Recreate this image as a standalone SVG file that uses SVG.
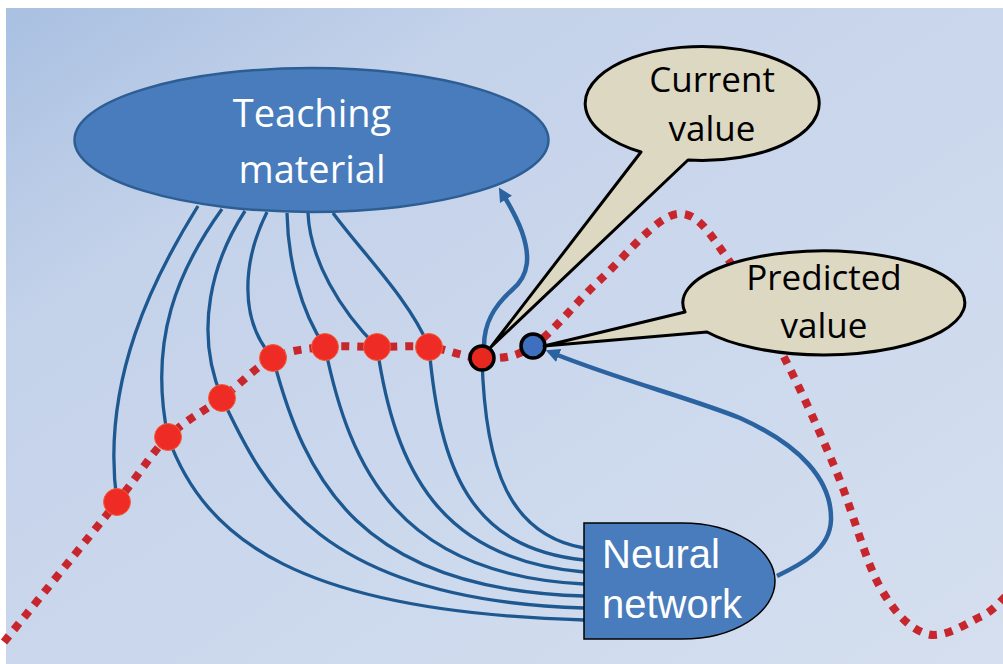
<svg xmlns="http://www.w3.org/2000/svg" width="1003" height="664" viewBox="0 0 1003 664">
  <defs>
    <linearGradient id="bg" x1="0" y1="0" x2="1" y2="1">
      <stop offset="0" stop-color="#a9c0e1"/>
      <stop offset="0.25" stop-color="#c4d2ea"/>
      <stop offset="1" stop-color="#d5dfef"/>
    </linearGradient>
    <marker id="arrow" viewBox="0 0 14 14" refX="4" refY="7" markerWidth="14" markerHeight="14" markerUnits="userSpaceOnUse" orient="auto">
      <path d="M0,0 L14,7 L0,14 z" fill="#2b63a0"/>
    </marker>
    <style>
      .wire { fill: none; stroke: #1d5891; stroke-width: 3.3; }
      .thick { fill: none; stroke: #2b63a0; stroke-width: 4.5; marker-end: url(#arrow); }
      .trend { fill: none; stroke: #c8262d; stroke-width: 8; stroke-dasharray: 8 8; }
      .pt { fill: #ee2b24; stroke: #f2603a; stroke-width: 1; }
      .callout { fill: #ddd8c2; stroke: #000; stroke-width: 3; stroke-linejoin: round; }
      .ctext { font-family: "Open Sans", "Liberation Sans", sans-serif; font-size: 35px; fill: #000; text-anchor: middle; }
      .ttext { font-family: "Open Sans", "Liberation Sans", sans-serif; font-size: 38px; fill: #fff; text-anchor: middle; }
      .ntext { font-family: "Liberation Sans", Arial, sans-serif; font-size: 40px; fill: #fff; }
    </style>
  </defs>

  <rect x="0" y="0" width="1003" height="664" fill="#ffffff"/>
  <rect x="6" y="8" width="997" height="656" fill="url(#bg)"/>

  <g id="trend-curve">
    <path class="trend" d="M4,642 C22.8,618.7 89.7,536.2 117,502 C144.3,467.8 150.5,454.3 168,437 C185.5,419.7 204.5,411.2 222,398 C239.5,384.8 255.8,366.5 273,358 C290.2,349.5 307.7,348.8 325,347 C342.3,345.2 359.7,347 377,347 C394.3,347 411.5,345.2 429,347 C446.5,348.8 464.7,357.8 482,358 C499.3,358.2 513.3,359 533,346 C552.7,333 576,302 600,280 C624,258 655.3,217 677,214 C698.7,211 711.7,237.2 730,262 C748.3,286.8 769.2,327.8 787,363 C804.8,398.2 821.5,435.7 837,473 C852.5,510.3 865,560.2 880,587 C895,613.8 910.3,629 927,634 C943.7,639 967,623.2 980,617 C993,611.5 1001,600.3 1005,597"/>
  </g>

  <g id="connectors">
    <path class="wire" d="M198,206 C155,275 100,380 117,502"/>
    <path class="wire" d="M222,209 C178,270 148,340 168,437 C205,540 300,612 584,620"/>
    <path class="wire" d="M245,211 C213,260 193,330 222,398 C265,490 320,600 584,608"/>
    <path class="wire" d="M267,212 C243,260 238,320 273,358 C305,480 360,590 584,596"/>
    <path class="wire" d="M287,213 C288,260 300,310 325,347 C350,470 400,575 584,584"/>
    <path class="wire" d="M308,213 C310,260 340,310 377,347 C395,470 440,560 584,572"/>
    <path class="wire" d="M333,213 C360,250 410,300 429,347 C440,470 470,548 584,560"/>
    <path class="wire" d="M482,358 C485,470 510,535 584,548"/>
    <path class="thick" d="M484,346 C484,322 495,305 512,290 C530,275 530,255 522,232 C517,218 510,206 504,196"/>
    <path class="thick" d="M777,576 C800,565 830,550 831,520 C832,480 800,445 740,418 C690,398 620,380 555,354"/>
  </g>

  <g id="points">
    <circle class="pt" cx="117" cy="502" r="13.5"/>
    <circle class="pt" cx="168" cy="437" r="13.5"/>
    <circle class="pt" cx="222" cy="398" r="13.5"/>
    <circle class="pt" cx="273" cy="358" r="13.5"/>
    <circle class="pt" cx="325" cy="347" r="13.5"/>
    <circle class="pt" cx="377" cy="347" r="13.5"/>
    <circle class="pt" cx="429" cy="347" r="13.5"/>
  </g>

  <g id="current-point">
    <circle cx="482" cy="358" r="12" fill="#e8281f" stroke="#000" stroke-width="3.5"/>
  </g>
  <g id="predicted-point">
    <circle cx="533" cy="346" r="12" fill="#3f6fbf" stroke="#000" stroke-width="3.5"/>
  </g>

  <g id="current-value">
    <path class="callout" d="M688,160 A117,57 0 1 0 641,152 L491,347 Z"/>
    <text class="ctext" x="712" y="92">Current</text>
    <text class="ctext" x="712" y="141">value</text>
  </g>

  <g id="predicted-value">
    <path class="callout" d="M707,332 A141,52 0 1 0 685,312 L544,346 Z"/>
    <text class="ctext" x="824" y="290">Predicted</text>
    <text class="ctext" x="824" y="338">value</text>
  </g>

  <g id="teaching-material">
    <ellipse cx="311.5" cy="140" rx="237" ry="72" fill="#487cbc" stroke="#2d5e93" stroke-width="2.5"/>
    <text class="ttext" x="312" y="127">Teaching</text>
    <text class="ttext" x="312" y="183">material</text>
  </g>

  <g id="neural-network">
    <path d="M584,523 L682,523 A93,58 0 0 1 682,639 L584,639 Z" fill="#487cbc" stroke="#000" stroke-width="1.5"/>
    <text class="ntext" x="602" y="568">Neural</text>
    <text class="ntext" x="602" y="618">network</text>
  </g>
</svg>
